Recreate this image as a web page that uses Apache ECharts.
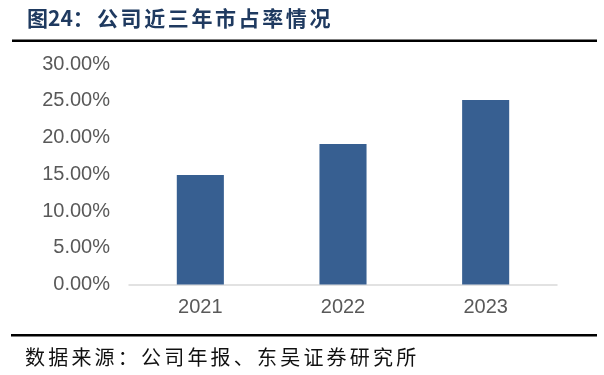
<!DOCTYPE html>
<html>
<head>
<meta charset="utf-8">
<script src="https://cdn.jsdelivr.net/npm/echarts@6/dist/echarts.min.js"></script>
<style>
html,body{margin:0;padding:0;background:#fff;}
#c{width:604px;height:375px;}
</style>
</head>
<body>
<div id="c"></div>
<script>
const categories = ['2021', '2022', '2023'];
const marketShare = [14.9, 19.1, 25.1];
const yTicks = [0, 5, 10, 15, 20, 25, 30];
const titlePrefix = '图24：';
const titleText = '公司近三年市占率情况';
const sourceText = '数据来源：公司年报、东吴证券研究所';

const titleFont = 'bold 21px "Noto Sans CJK SC", sans-serif';
const sourceFont = '20px "Noto Sans CJK SC", sans-serif';

const graphics = [
  {type: 'text', x: 27, y: 18, style: {text: titlePrefix, font: titleFont, fill: '#1f3a60', textVerticalAlign: 'middle'}},
  {type: 'rect', shape: {x: 12, y: 39.5, width: 585, height: 2.5}, style: {fill: '#000'}},
  {type: 'rect', shape: {x: 11, y: 334, width: 586, height: 2.5}, style: {fill: '#000'}}
];
Array.from(titleText).forEach((ch, i) => {
  graphics.push({type: 'text', x: 97 + i * 23.6, y: 18, style: {text: ch, font: titleFont, fill: '#1f3a60', textVerticalAlign: 'middle'}});
});
Array.from(sourceText).forEach((ch, i) => {
  graphics.push({type: 'text', x: 25 + i * 23.2, y: 357, style: {text: ch, font: sourceFont, fill: '#111', textVerticalAlign: 'middle'}});
});

const chart = echarts.init(document.getElementById('c'), null, {renderer: 'canvas'});
chart.setOption({
  animation: false,
  backgroundColor: '#ffffff',
  grid: {left: 129, right: 47, top: 64, bottom: 90.5, containLabel: false},
  xAxis: {
    type: 'category',
    data: categories,
    axisLine: {show: true, lineStyle: {color: '#d9d9d9', width: 1.5}},
    axisTick: {show: false},
    axisLabel: {color: '#595959', fontSize: 20, fontFamily: 'Liberation Sans, Arial, sans-serif', margin: 13}
  },
  yAxis: {
    type: 'value',
    min: yTicks[0],
    max: yTicks[yTicks.length - 1],
    interval: 5,
    axisLine: {show: false},
    axisTick: {show: false},
    splitLine: {show: false},
    axisLabel: {
      color: '#595959', fontSize: 20, fontFamily: 'Liberation Sans, Arial, sans-serif', margin: 19,
      formatter: v => v.toFixed(2) + '%'
    }
  },
  series: [{
    type: 'bar',
    data: marketShare,
    barWidth: '33%',
    itemStyle: {color: '#375f91'}
  }],
  graphic: graphics
});
</script>
</body>
</html>
